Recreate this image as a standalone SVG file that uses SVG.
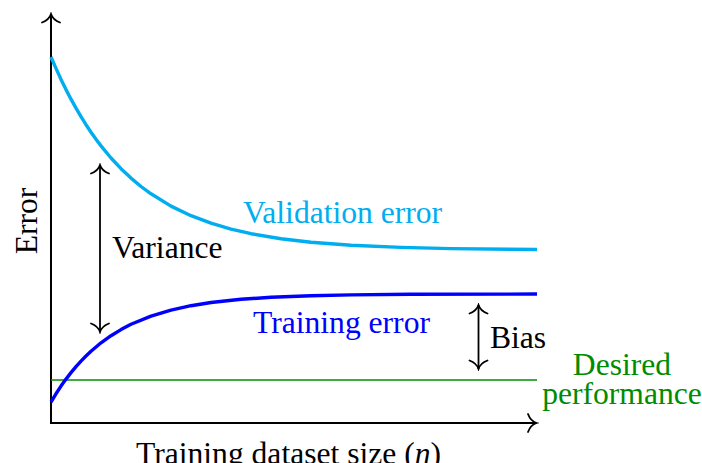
<svg xmlns="http://www.w3.org/2000/svg" width="702" height="463" viewBox="0 0 702 463">
  <style>
    text { font-family: "Liberation Serif", "Times New Roman", serif; font-size: 31.6px; }
    .ink { stroke: #000; fill: none; stroke-width: 1.8; }
    .axis { stroke: #000; fill: none; stroke-width: 2; }
    .curve { fill: none; stroke-width: 3.4; stroke-linejoin: round; stroke-linecap: butt; }
    .val { stroke: #00AEEF; }
    .train { stroke: #0000FF; }
    .goal { stroke: #008C00; stroke-width: 1.7; fill: none; }
  </style>
  <defs>
    <marker id="to" viewBox="-11 -11 13 22" refX="0" refY="0" markerWidth="13" markerHeight="22" markerUnits="userSpaceOnUse" orient="auto-start-reverse">
      <path d="M -8.5,-9 C -6.5,-3.5 -2.5,-0.8 0,0 C -2.5,0.8 -6.5,3.5 -8.5,9" fill="none" stroke="#000" stroke-width="1.8" stroke-linecap="round"/>
    </marker>
  </defs>

  <!-- axes -->
  <g id="axes">
    <path class="axis" d="M 51,423 L 51,14" marker-end="url(#to)"/>
    <path class="axis" d="M 50,423 L 536.5,423" marker-end="url(#to)"/>
  </g>

  <!-- desired performance level -->
  <g id="desired-line">
    <path class="goal" d="M 51,380 L 537,380"/>
  </g>

  <!-- validation error: exponential decay towards its plateau -->
  <g id="validation-curve">
    <polyline class="curve val" points="51,57 56,68.4 61,79.4 66,89.6 71,99.2 76,108.2 81,116.7 86,124.7 91,132.2 96,139.3 101,145.9 111,158 121,168.7 131,178.1 141,186.5 151,193.8 171,206.1 191,215.7 211,223.2 231,229.1 251,233.7 281,238.7 311,242.2 351,245.2 401,247.4 451,248.6 537,249.5"/>
  </g>

  <!-- training error: exponential rise towards its plateau -->
  <g id="training-curve">
    <polyline class="curve train" points="51,402 56,393.8 61,386.1 66,379.1 71,372.6 76,366.6 81,361.1 86,356 91,351.2 101,342.8 111,335.7 121,329.6 131,324.3 151,316.1 171,310.1 191,305.7 211,302.5 241,299.3 271,297.3 311,295.7 351,294.9 411,294.3 537,294.05"/>
  </g>

  <!-- double-headed gap arrows -->
  <g id="connectors">
    <path class="ink" d="M 100,165 L 100,332" marker-start="url(#to)" marker-end="url(#to)"/>
    <path class="ink" d="M 478.5,305 L 478.5,369" marker-start="url(#to)" marker-end="url(#to)"/>
  </g>

  <!-- labels -->
  <g id="label-error">
    <text x="37" y="221" text-anchor="middle" transform="rotate(-90 37 221)">Error</text>
  </g>
  <g id="label-x">
    <text x="136" y="464">Training dataset size (<tspan font-style="italic">n</tspan>)</text>
  </g>
  <g id="label-validation">
    <text x="243" y="223" fill="#00AEEF">Validation error</text>
  </g>
  <g id="label-training">
    <text x="253" y="333" fill="#0000FF">Training error</text>
  </g>
  <g id="label-variance">
    <text x="112" y="258">Variance</text>
  </g>
  <g id="label-bias">
    <text x="490" y="348">Bias</text>
  </g>
  <g id="label-desired">
    <text x="622" y="375" text-anchor="middle" fill="#008C00">Desired</text>
    <text x="622" y="404" text-anchor="middle" fill="#008C00">performance</text>
  </g>
</svg>
